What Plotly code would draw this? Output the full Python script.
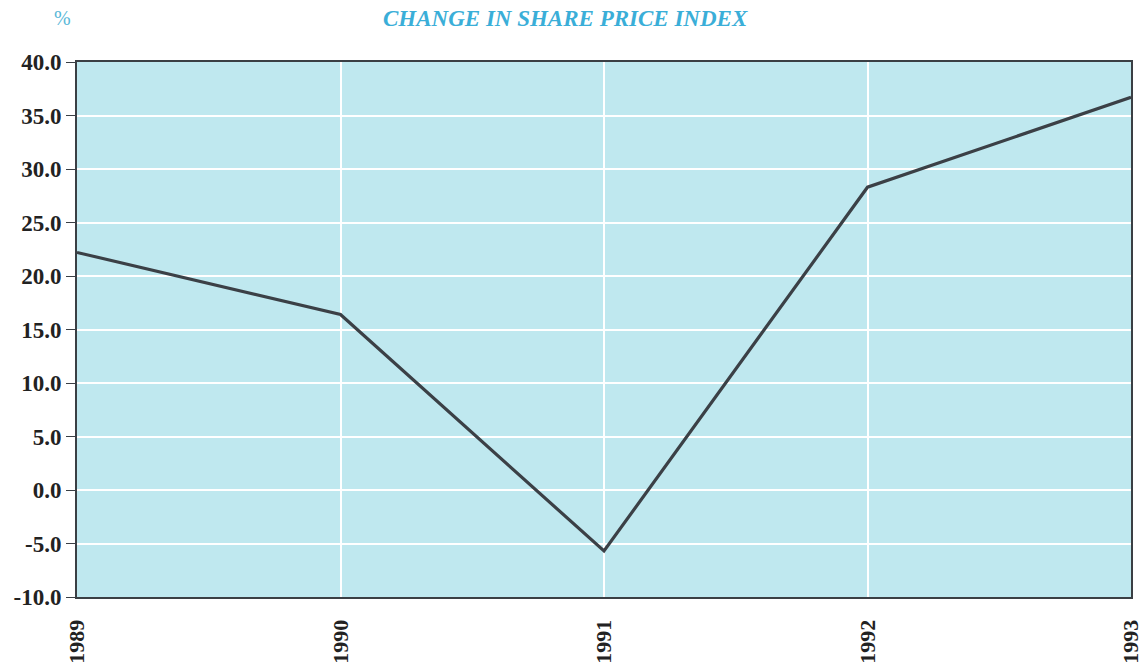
import plotly.graph_objects as go

years = [1989, 1990, 1991, 1992, 1993]
change_pct = [22.2, 16.4, -5.7, 28.3, 36.7]
year_labels = ["1989", "1990", "1991", "1992", "1993"]
y_ticks = [-10, -5, 0, 5, 10, 15, 20, 25, 30, 35, 40]
y_tick_labels = ["-10.0", "-5.0", "0.0", "5.0", "10.0", "15.0", "20.0", "25.0", "30.0", "35.0", "40.0"]

SERIF = "Liberation Serif"

fig = go.Figure()
fig.add_trace(go.Scatter(
    x=years, y=change_pct, mode="lines",
    line=dict(color="#3b4046", width=3.2),
    cliponaxis=False, hoverinfo="x+y"
))

fig.update_layout(
    width=1145, height=670,
    margin=dict(l=77, r=14, t=62, b=73, autoexpand=False),
    paper_bgcolor="white",
    plot_bgcolor="#bfe8ef",
    showlegend=False,
    font=dict(family=SERIF, color="#222222"),
    annotations=[
        dict(text="CHANGE IN SHARE PRICE INDEX", x=0.463, y=1, xref="paper", yref="paper",
             yanchor="middle", xanchor="center", yshift=44, showarrow=False,
             font=dict(size=23, color="#3aaed8", family=SERIF, weight="bold", style="italic")),
        dict(text="%", x=0, y=1, xref="paper", yref="paper", xanchor="center", yanchor="middle",
             xshift=-15, yshift=44, showarrow=False,
             font=dict(size=20, color="#5ab8d8", family=SERIF)),
    ],
)

fig.update_xaxes(
    range=[1989, 1993], tickvals=years, ticktext=year_labels, tickangle=-90,
    showgrid=True, gridcolor="white", gridwidth=2,
    showline=True, linecolor="#3a3f44", linewidth=2, mirror=True,
    ticks="outside", ticklen=12, tickcolor="rgba(0,0,0,0)",
    zeroline=False, automargin=False, ticklabeloverflow="allow",
    tickfont=dict(size=22, color="#222222", family=SERIF, weight="bold"),
)
fig.update_yaxes(
    range=[-10, 40], tickvals=y_ticks, ticktext=y_tick_labels,
    showgrid=True, gridcolor="white", gridwidth=2,
    showline=True, linecolor="#3a3f44", linewidth=2, mirror=True,
    ticks="outside", ticklen=9, tickcolor="#3a3f44", tickwidth=1,
    zeroline=False, automargin=False, ticklabeloverflow="allow",
    tickfont=dict(size=23, color="#222222", family=SERIF, weight="bold"),
)

fig.write_html("out.html",
               config={"displayModeBar": False},
               post_script="document.body.style.margin='0';document.body.style.overflow='hidden';")
